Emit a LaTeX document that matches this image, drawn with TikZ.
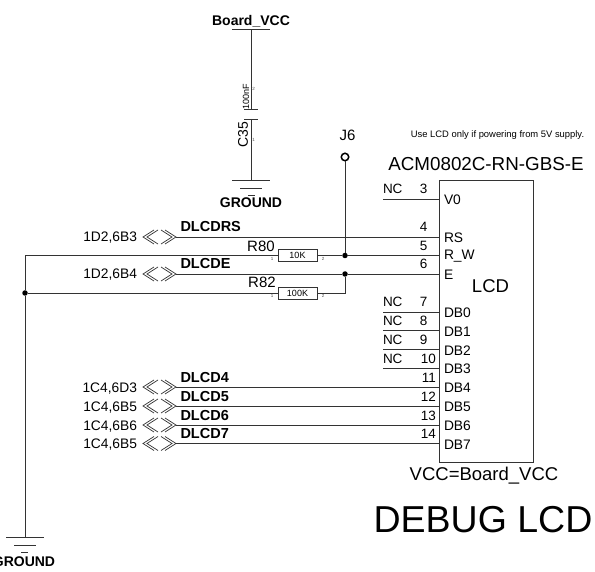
\documentclass[tikz,border=0pt]{standalone}
\usepackage{fontspec}
\setmainfont{Liberation Sans}
\newcommand{\fsz}[1]{\fontsize{#1}{#1}\selectfont}
\definecolor{wirec}{HTML}{333333}
\tikzset{
  wire/.style={draw=wirec,line width=0.9pt},
  thin wire/.style={draw=wirec,line width=0.7pt},
  txt/.style={inner sep=0pt,outer sep=0pt,text=black},
  netlabel/.style={txt,font=\fsz{14.5}\bfseries,anchor=base west},
  offlabel/.style={txt,font=\fsz{13.8},anchor=base east},
  pinnum/.style={txt,font=\fsz{13.5},anchor=base east},
  pinname/.style={txt,font=\fsz{13.8},anchor=west},
  nclabel/.style={txt,font=\fsz{13.5},anchor=base west},
  reflabel/.style={txt,font=\fsz{15},anchor=base},
  gndlabel/.style={txt,font=\fsz{14}\bfseries,anchor=base},
  tiny/.style={txt,font=\fsz{4.5},text=black!70},
  resbox/.style={draw=wirec,line width=0.8pt,fill=white,minimum width=39pt,minimum height=12pt,inner sep=0pt,font=\fsz{9}},
  junction/.style={circle,fill=black,minimum size=5.5pt,inner sep=0pt},
  offchev/.pic={
    \draw[thin wire] (11,-7) -- (0,0) -- (11,7) (15,-7) -- (4,0) -- (15,7);
    \draw[thin wire] (18,-7) -- (29,0) -- (18,7) (22,-7) -- (33,0) -- (22,7);
  }
}
\begin{document}
\begin{tikzpicture}[x=1pt,y=-1pt]
\useasboundingbox (0,0) rectangle (595,572);

% LCD body
\node[draw=wirec,line width=0.9pt,minimum width=94pt,minimum height=282pt,inner sep=0pt] (lcd) at (486,321) {};
\node[txt,font=\fsz{18.5}] (lcdlabel) at (490.5,286) {LCD};
\node[txt,font=\fsz{18.8},anchor=base] (part) at (486,171) {ACM0802C-RN-GBS-E};
\node[txt,font=\fsz{9.4},anchor=base] (note) at (497.5,138) {Use LCD only if powering from 5V supply.};
\node[txt,font=\fsz{18.5},anchor=base] (vcceq) at (484,480) {VCC=Board\_VCC};
\node[txt,font=\fsz{37.5},anchor=base] (title) at (483,532) {DEBUG LCD};

% pin ends on the LCD
\foreach \nm/\yy in {p3/199,p4/237,p5/255.5,p6/274,p7/312,p8/330.5,p9/349.5,p10/368,p11/387,p12/406,p13/425,p14/443.5}
  \coordinate (\nm) at (439,\yy);
% NC pins
\foreach \n/\yy/\nm in {3/199/V0,7/312/DB0,8/330.5/DB1,9/349.5/DB2,10/368/DB3}{
  \coordinate (nc\n) at (383,\yy);
  \draw[wire] (nc\n) -- (p\n);
  \node[nclabel] (nct\n) at (383,\yy-5) {NC};
  \node[pinnum] (num\n) at (\ifnum\n>9 436\else 427.5\fi,\yy-5) {\n};
  \node[pinname] (name\n) at (444,\yy+1) {\nm};
}
\foreach \n/\yy/\nm in {4/237/RS,5/255.5/R\_W,6/274/E,11/387/DB4,12/406/DB5,13/425/DB6,14/443.5/DB7}{
  \node[pinnum] (num\n) at (\ifnum\n>9 436\else 427.5\fi,\yy-5) {\n};
  \node[pinname] (name\n) at (444,\yy+1) {\nm};
}

% Capacitor
\node[gndlabel] (vcc) at (251,26) {Board\_VCC};
\coordinate (vccbarL) at (232,29.5); \coordinate (vccbarR) at (270,29.5);
\coordinate (vccbarM) at (251,29.5);
\draw[wire] (vccbarL) -- (vccbarR);
\coordinate (plateA) at (251,109.5); \coordinate (plateB) at (251,119);
\draw[wire] (vccbarM) -- (plateA);
\draw[wire] (244,109.5) -- (258,109.5) (244,119) -- (258,119);
\coordinate (capgnd) at (251,180);
\draw[wire] (plateB) -- (capgnd);
\draw[wire] (232,180) -- (270,180);
\draw[thin wire] (240,188) -- (262,188);
\draw[thin wire] (248,195) -- (255,195);
\node[gndlabel] (gnd1) at (251,207.5) {GROUND};
\node[txt,font=\fsz{14},rotate=90] (c35) at (243,134.5) {C35};
\node[txt,font=\fsz{9},rotate=90] (cval) at (246,97) {100nF};
\node[tiny] (cp2) at (253.5,89) {2};
\node[tiny] (cp1) at (253.5,140) {1};

% J6
\node[txt,font=\fsz{15},anchor=base] (j6) at (347.5,141) {J6};
\node[circle,draw=black,line width=1.5pt,minimum size=7.5pt,inner sep=0pt] (j6c) at (345,157) {};
\node[junction] (jr) at (345,255.5) {};
\node[junction] (je) at (345,274) {};
\draw[wire] (j6c) -- (jr);

% Resistors
\node[resbox] (r80) at (297.5,255.5) {10K};
\node[resbox] (r82) at (297.5,293) {100K};
\node[reflabel] (r80t) at (261,251.7) {R80};
\node[reflabel] (r82t) at (262,287.5) {R82};
\node[tiny] (r80a) at (272,258.5) {1};
\node[tiny] (r80b) at (323,258.5) {2};
\node[tiny] (r82a) at (272,296) {1};
\node[tiny] (r82b) at (323,296) {2};

% Left rail
\coordinate (railtop) at (25,255.5);
\node[junction] (jl) at (25,293) {};
\coordinate (railgnd) at (25,537.5);
\draw[wire] (railtop) -- (r80.west);
\draw[wire] (r80.east) -- (jr) -- (p5);
\draw[wire] (railtop) -- (jl);
\draw[wire] (jl) -- (railgnd);
\draw[wire] (jl) -- (r82.west);
\draw[wire] (r82.east) -| (je);
\draw[wire] (6,537.5) -- (44,537.5);
\draw[thin wire] (14,545) -- (36,545);
\draw[thin wire] (21,552) -- (28,552);
\node[gndlabel] (gnd2) at (24,566) {GROUND};

% Off-page signals
\foreach \n/\yy/\net/\ref in {4/237/DLCDRS/1D2{,}6B3,6/274/DLCDE/1D2{,}6B4,11/387/DLCD4/1C4{,}6D3,12/406/DLCD5/1C4{,}6B5,13/425/DLCD6/1C4{,}6B6,14/443.5/DLCD7/1C4{,}6B5}{
  \coordinate (off\n) at (176,\yy);
  \pic at (143,\yy) {offchev};
  \node[offlabel] (ref\n) at (137,\yy+5) {\ref};
  \node[netlabel] (net\n) at (180.5,\yy-5) {\net};
}
\draw[wire] (off4) -- (p4);
\draw[wire] (off6) -- (je) -- (p6);
\draw[wire] (off11) -- (p11);
\draw[wire] (off12) -- (p12);
\draw[wire] (off13) -- (p13);
\draw[wire] (off14) -- (p14);
\end{tikzpicture}
\end{document}
